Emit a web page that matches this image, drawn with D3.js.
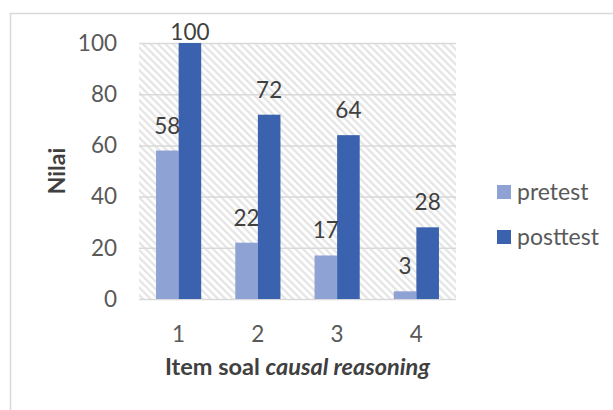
<!DOCTYPE html>
<html>
<head>
<meta charset="utf-8">
<script src="https://cdn.jsdelivr.net/npm/d3@7"></script>
<style>
  html, body { margin: 0; padding: 0; background: #fff; }
  #container { width: 613px; height: 410px; }
  text { font-family: Lato, "Open Sans", sans-serif; }
</style>
</head>
<body>
<div id="container"></div>
<script>
// 数据
const categories = ["1", "2", "3", "4"];
const seriesNames = ["pretest", "posttest"];
const pretest = [58, 22, 17, 3];
const posttest = [100, 72, 64, 28];
const yTicks = [0, 20, 40, 60, 80, 100];

const colors = ["#8fa2d4", "#3a62ae"];
const font = 'Lato, "Open Sans", sans-serif';

const width = 613;
const height = 410;

// 绘图区域
const marginLeft = 139;
const plotRight = 456;
const plotTop = 43;
const plotBottom = 299;

const svg = d3
  .select("#container")
  .append("svg")
  .attr("width", width)
  .attr("height", height)
  .attr("viewBox", [0, 0, width, height]);

// 斜线填充的背景图案
const defs = svg.append("defs");
defs
  .append("pattern")
  .attr("id", "hatch")
  .attr("patternUnits", "userSpaceOnUse")
  .attr("width", 5.3)
  .attr("height", 5.3)
  .attr("patternTransform", "rotate(-45)")
  .call((p) =>
    p
      .append("rect")
      .attr("width", 2.2)
      .attr("height", 5.3)
      .attr("fill", "#e4e4e4")
  );

// 外框（只有上边和左边可见）
svg
  .append("path")
  .attr("d", `M10.5,${height}V13.5H${width}`)
  .attr("fill", "none")
  .attr("stroke", "#d9d9d9")
  .attr("stroke-width", 1.5);

// 比例尺
const x0 = d3
  .scaleBand()
  .domain(categories)
  .range([marginLeft, plotRight])
  .paddingInner(0.43)
  .paddingOuter(0.215);

const x1 = d3.scaleBand().domain(seriesNames).range([0, x0.bandwidth()]);

const y = d3.scaleLinear().domain([0, 100]).range([plotBottom, plotTop]);

// 背景
svg
  .append("rect")
  .attr("x", marginLeft)
  .attr("y", plotTop)
  .attr("width", plotRight - marginLeft)
  .attr("height", plotBottom - plotTop)
  .attr("fill", "url(#hatch)");

// 纵坐标轴（网格线 + 刻度值）
svg
  .append("g")
  .attr("transform", `translate(${marginLeft},0)`)
  .call(
    d3
      .axisLeft(y)
      .tickValues(yTicks)
      .tickSize(-(plotRight - marginLeft))
      .tickPadding(22)
  )
  .call((g) => g.select(".domain").remove())
  .call((g) =>
    g.selectAll(".tick line").attr("stroke", "#d9d9d9").attr("stroke-width", 1.5)
  )
  .call((g) =>
    g
      .selectAll(".tick text")
      .attr("fill", "#595959")
      .attr("font-size", 22.5)
      .attr("font-family", font)
  );

// 横坐标轴（刻度值）
svg
  .append("g")
  .attr("transform", `translate(0,${plotBottom})`)
  .call(d3.axisBottom(x0).tickSize(0).tickPadding(27))
  .call((g) => g.select(".domain").remove())
  .call((g) =>
    g
      .selectAll(".tick text")
      .attr("fill", "#595959")
      .attr("font-size", 22.5)
      .attr("font-family", font)
  );

// 柱子
const rows = categories.map((c, i) => ({
  cat: c,
  values: [pretest[i], posttest[i]]
}));

const groups = svg
  .append("g")
  .selectAll("g")
  .data(rows)
  .join("g")
  .attr("transform", (d) => `translate(${x0(d.cat)},0)`);

groups
  .selectAll("rect")
  .data((d) => d.values.map((v, k) => ({ key: seriesNames[k], v, k })))
  .join("rect")
  .attr("x", (d) => x1(d.key))
  .attr("y", (d) => y(d.v))
  .attr("width", x1.bandwidth())
  .attr("height", (d) => y(0) - y(d.v))
  .attr("fill", (d) => colors[d.k]);

// 数据标签（顶部会被限制在图表区域内）
groups
  .selectAll("text")
  .data((d) => d.values.map((v, k) => ({ key: seriesNames[k], v, k })))
  .join("text")
  .attr("x", (d) => x1(d.key) + x1.bandwidth() / 2)
  .attr("y", (d) => Math.max(y(d.v) - 17, 40))
  .attr("text-anchor", "middle")
  .attr("fill", "#404040")
  .attr("font-size", 22.5)
  .text((d) => d.v);

// 坐标轴标题
const xTitle = svg
  .append("text")
  .attr("x", (marginLeft + plotRight) / 2)
  .attr("y", 375)
  .attr("text-anchor", "middle")
  .attr("fill", "#404040")
  .attr("font-size", 23.5)
  .attr("font-weight", "bold");
xTitle.append("tspan").text("Item soal ");
xTitle.append("tspan").attr("font-style", "italic").text("causal reasoning");

svg
  .append("text")
  .attr("transform", `translate(65,${(plotTop + plotBottom) / 2}) rotate(-90)`)
  .attr("text-anchor", "middle")
  .attr("fill", "#404040")
  .attr("font-size", 23)
  .attr("font-weight", "bold")
  .text("Nilai");

// 图例
const legend = svg
  .append("g")
  .selectAll("g")
  .data(seriesNames)
  .join("g")
  .attr("transform", (d, i) => `translate(497,${185 + i * 45})`);

legend
  .append("rect")
  .attr("width", 14)
  .attr("height", 14)
  .attr("fill", (d, i) => colors[i]);

legend
  .append("text")
  .attr("x", 20)
  .attr("y", 7)
  .attr("dy", "0.35em")
  .attr("fill", "#595959")
  .attr("font-size", 23)
  .text((d) => d);
</script>
</body>
</html>
